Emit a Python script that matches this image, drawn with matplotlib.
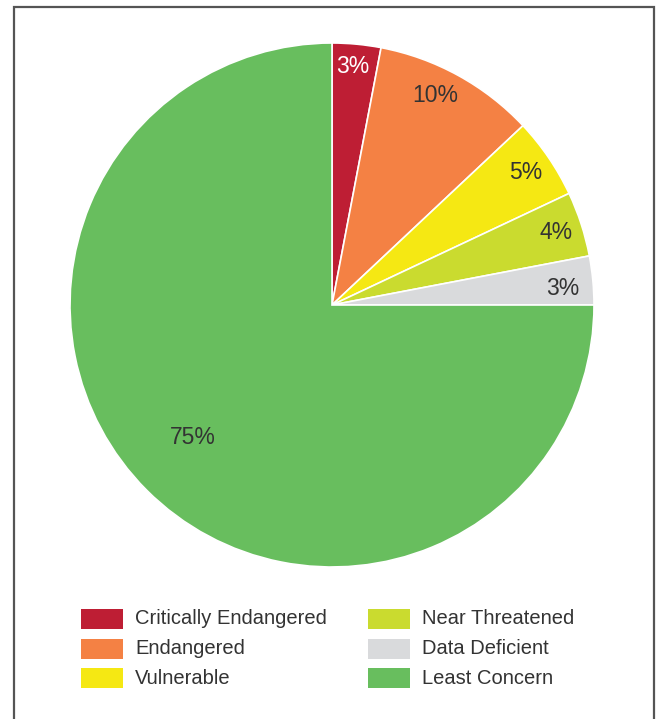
import matplotlib
matplotlib.use("Agg")
import numpy as np
import matplotlib.pyplot as plt
import matplotlib.transforms as mtransforms
from matplotlib.patches import Rectangle

# Datos
categorias = ["Critically Endangered", "Endangered", "Vulnerable",
              "Near Threatened", "Data Deficient", "Least Concern"]
porcentajes = [3, 10, 5, 4, 3, 75]
colores = ["#BE1E34", "#F48144", "#F5E813", "#CADB2F", "#D9DADC", "#68BE5E"]
etiquetas = ["3%", "10%", "5%", "4%", "3%", "75%"]
color_texto = ["white", "#333333", "#333333", "#333333", "#333333", "#333333"]
# distancia al centro y ajuste del angulo de cada etiqueta
distancias = [0.92, 0.90, 0.90, 0.90, 0.885, 0.73]
ajuste_ang = [0.4, 2.8, 0.5, 0.4, -0.9, -1.9]

W, H = 660, 719
fig = plt.figure(figsize=(W / 100, H / 100), dpi=100)
fig.patch.set_facecolor("white")

# Marco
marco = Rectangle((14 / W, -0.05), (654 - 14) / W, 1.05 - 7 / H,
                  transform=fig.transFigure, fill=False,
                  edgecolor="#555555", linewidth=1.6)
fig.add_artist(marco)

# Grafica de pastel
cx, cy, r = 332, 305, 262
ax = fig.add_axes([(cx - r) / W, (H - cy - r) / H, 2 * r / W, 2 * r / H])
wedges, _ = ax.pie(porcentajes, colors=colores, startangle=90, counterclock=False,
                   wedgeprops={"edgecolor": "white", "linewidth": 1.2})
ax.set_xlim(-1, 1)
ax.set_ylim(-1, 1)
ax.set_aspect("auto")

# bajar un poco las etiquetas (2 px)
baja = ax.transData + mtransforms.ScaledTranslation(0, -0.02, fig.dpi_scale_trans)
for w, txt, col, d, da in zip(wedges, etiquetas, color_texto, distancias, ajuste_ang):
    ang = np.deg2rad((w.theta1 + w.theta2) / 2 + da)
    ax.text(d * np.cos(ang), d * np.sin(ang), txt, color=col, transform=baja,
            ha="center", va="center", fontsize=16.5, family="Liberation Sans")

# Leyenda (dos columnas de tres filas)
col_x = [81, 368]
fila_y = [619, 648.5, 678]
for i, (cat, c) in enumerate(zip(categorias, colores)):
    x = col_x[i // 3]
    y = fila_y[i % 3]
    fig.add_artist(Rectangle((x / W, 1 - (y + 10) / H), 42 / W, 20 / H,
                             transform=fig.transFigure, facecolor=c,
                             edgecolor="none"))
    fig.text((x + 54) / W, 1 - y / H, cat, ha="left", va="center",
             fontsize=14.5, family="Liberation Sans", color="#333333")

fig.savefig("out.png", dpi=100)
